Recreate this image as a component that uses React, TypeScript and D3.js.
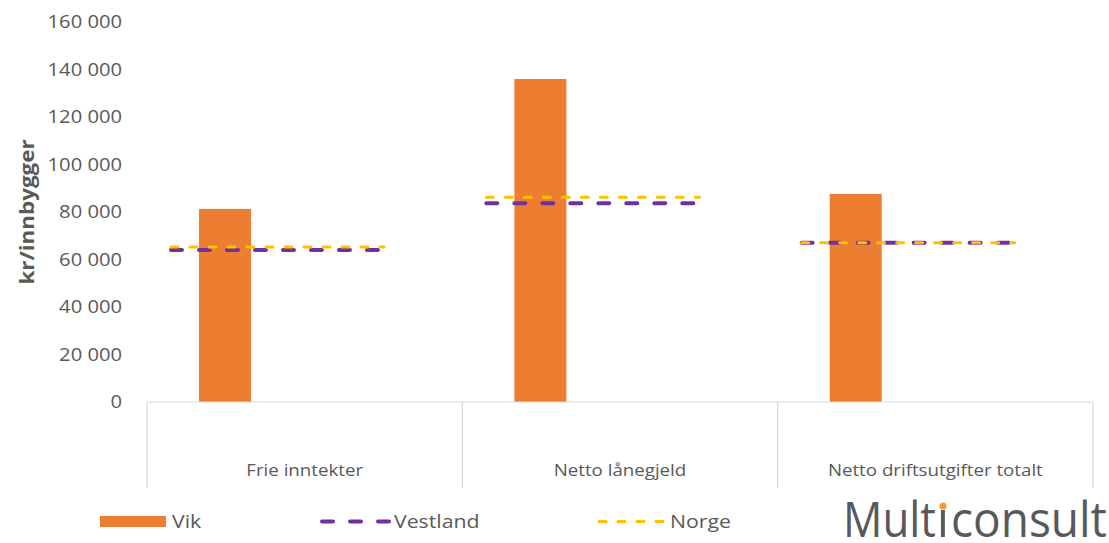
import React from "react";
import * as d3 from "d3";

const categories = ["Frie inntekter", "Netto lånegjeld", "Netto driftsutgifter totalt"];
const vik = [81300, 136000, 87600];
const vestland = [64000, 83700, 67100];
const norge = [65300, 86200, 67100];
const yTicks = [0, 20000, 40000, 60000, 80000, 100000, 120000, 140000, 160000];

const W = 1109;
const H = 543;
const left = 147;
const right = 1093;
const top = 22;
const bottom = 402;

const ORANGE = "#ED7D31";
const PURPLE = "#7030A0";
const YELLOW = "#FFC000";
const TEXT = "#595959";
const GRID = "#D9D9D9";
const FONT = "'Open Sans', 'Liberation Sans', sans-serif";
const SX = 1.12;

const fmt = (v: number) => d3.format(",")(v).replace(/,/g, " ");

function T(props: { x: number; y: number; size: number; anchor?: string; children: React.ReactNode; weight?: string; sx?: number; rotate?: number; dy?: string }) {
  const { x, y, size, anchor = "start", children, weight = "normal", sx = SX, rotate = 0, dy } = props;
  return (
    <text
      transform={`translate(${x},${y}) rotate(${rotate}) scale(${sx},1)`}
      textAnchor={anchor}
      fontFamily={FONT}
      fontSize={size}
      fontWeight={weight}
      fill={TEXT}
      dy={dy}
    >
      {children}
    </text>
  );
}

export default function App() {
  const x = d3.scaleBand<string>().domain(categories).range([left, right]).padding(0);
  const y = d3.scaleLinear().domain([0, 160000]).range([bottom, top]);
  const bw = x.bandwidth();
  const boundaries = [...categories.map((c) => x(c) as number), right];

  const seriesLine = (vals: number[], color: string, width: number, dash: string) =>
    categories.map((c, i) => {
      const x0 = (x(c) as number) + bw * 0.076;
      const x1 = (x(c) as number) + bw * 0.752;
      return (
        <line
          key={c + color}
          x1={x0}
          x2={x1}
          y1={y(vals[i])}
          y2={y(vals[i])}
          stroke={color}
          strokeWidth={width}
          strokeDasharray={dash}
          strokeLinecap="round"
        />
      );
    });

  return (
    <svg width={W} height={H} style={{ position: "absolute", left: 0, top: 0, background: "#fff" }}>
      <rect width={W} height={H} fill="#fff" />
      {/* y tick labels */}
      {yTicks.map((t) => (
        <T key={t} x={122} y={y(t)} dy="0.36em" anchor="end" size={18}>
          {fmt(t)}
        </T>
      ))}
      {/* y axis title */}
      <T x={34} y={212} rotate={-90} anchor="middle" size={20} weight="bold">
        kr/innbygger
      </T>
      {/* bars */}
      {categories.map((c, i) => (
        <rect
          key={c}
          x={(x(c) as number) + bw * 0.165}
          width={bw * 0.165}
          y={y(vik[i])}
          height={bottom - y(vik[i])}
          fill={ORANGE}
        />
      ))}
      {/* axis line and separators */}
      <line x1={left} x2={right} y1={bottom} y2={bottom} stroke={GRID} strokeWidth={1.2} />
      {boundaries.map((b, i) => (
        <line key={i} x1={b} x2={b} y1={bottom} y2={488} stroke={GRID} strokeWidth={1.2} />
      ))}
      {/* category labels */}
      {categories.map((c) => (
        <T key={c} x={(x(c) as number) + bw / 2} y={476} anchor="middle" size={17} sx={1.1}>
          {c}
        </T>
      ))}
      {/* lines */}
      {seriesLine(vestland, PURPLE, 4, "11 17")}
      {seriesLine(norge, YELLOW, 3, "7 12")}
      {/* legend */}
      <rect x={100} y={516} width={66} height={11} fill={ORANGE} />
      <T x={172} y={528} size={19}>Vik</T>
      <line x1={322} x2={392} y1={521.5} y2={521.5} stroke={PURPLE} strokeWidth={4} strokeDasharray="11 17" strokeLinecap="round" />
      <T x={394} y={528} size={19}>Vestland</T>
      <line x1={599} x2={664} y1={521.5} y2={521.5} stroke={YELLOW} strokeWidth={3} strokeDasharray="7 12" strokeLinecap="round" />
      <T x={670} y={528} size={19}>Norge</T>
      {/* logo */}
      <g fontFamily={FONT} fontSize={49} fontWeight={500} fill="#58595B">
        <text x={843} y={537} textLength={93} lengthAdjust="spacingAndGlyphs">Mult</text>
        <text x={943} y={537} textAnchor="middle">ı</text>
        <text x={951} y={537} textLength={156} lengthAdjust="spacingAndGlyphs">consult</text>
      </g>
      <circle cx={943} cy={506} r={3.6} fill="#F39A3B" />
    </svg>
  );
}
